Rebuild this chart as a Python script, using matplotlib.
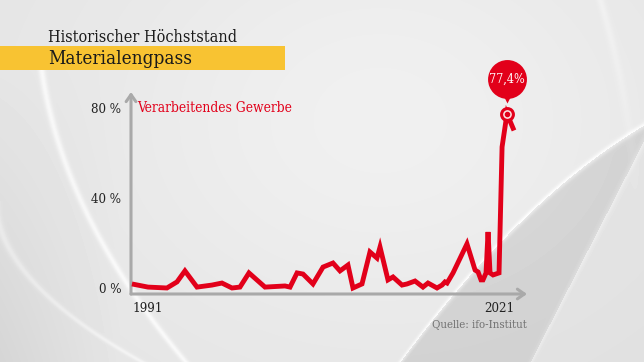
import numpy as np
import matplotlib
matplotlib.use("Agg")
import matplotlib.pyplot as plt
import matplotlib.transforms as mtransforms

# ---------------- data ----------------
years = [1989.63, 1991.00, 1992.62, 1993.48, 1994.16, 1995.19, 1996.47, 1997.32,
         1998.18, 1998.86, 1999.63, 2001.00, 2002.71, 2003.14, 2003.74, 2004.25,
         2005.10, 2005.96, 2006.81, 2007.41, 2008.09, 2008.52, 2009.29, 2009.97,
         2010.57, 2010.83, 2011.51, 2011.94, 2012.71, 2013.14, 2013.82, 2014.50,
         2014.93, 2015.70, 2016.13, 2016.38, 2016.56, 2017.07, 2018.26, 2018.95,
         2019.21, 2019.46, 2019.63, 2019.89, 2020.06, 2020.23, 2020.49, 2021.00,
         2021.26, 2021.68, 2022.28]
values = [1.8, 0.4, 0.0, 2.7, 7.6, 0.4, 1.3, 2.2,
          0.0, 0.4, 6.7, 0.4, 0.9, 0.4, 6.7, 6.2,
          1.8, 9.3, 11.1, 7.6, 10.2, 0.0, 1.8, 16.0,
          13.3, 18.2, 3.6, 4.9, 1.3, 1.8, 3.1, 0.4,
          2.2, 0.0, 1.3, 2.7, 2.2, 6.7, 19.6, 8.0,
          7.1, 3.6, 3.6, 6.7, 24.9, 6.7, 5.8, 6.7,
          62.7, 77.4, 70.0]
peak_year = 2021.68
peak_value = 77.4
peak_label = "77,4%"
ytick_vals = [0, 40, 80]
ytick_labels = ["0 %", "40 %", "80 %"]
xtick_vals = [1991, 2021]
xtick_labels = ["1991", "2021"]
title_small = "Historischer Höchststand"
title_big = "Materialengpass"
series_label = "Verarbeitendes Gewerbe"
source = "Quelle: ifo-Institut"

RED = "#e2001a"
GREY = "#a9a9a9"
SERIF = ["DejaVu Serif Condensed", "DejaVu Serif"]
STRETCH = "condensed"

W, H = 644, 362
fig = plt.figure(figsize=(W / 100, H / 100), dpi=100)

# ---------------- background ----------------
bg = fig.add_axes([0, 0, 1, 1])
bg.set_xlim(0, W)
bg.set_ylim(H, 0)
bg.axis("off")
yy, xx = np.mgrid[0:H, 0:W].astype(float)
img = np.full((H, W), 0.895)
# soft light area top-centre
img += 0.045 * np.exp(-(((xx - 380) / 280) ** 2 + ((yy - 120) / 220) ** 2))
# darker lower-left
img -= 0.06 * np.clip((120 - xx) / 120, 0, 1) * np.clip((yy - 60) / 300, 0, 1)
# bottom-right dark band between curve A and line B
curveA = 362 - 1.3553 * (xx - 400) + 0.001574 * (xx - 400) ** 2
lineB = 140 + (644 - xx) * (222 / 114)
band = (yy > curveA) & (yy < lineB)
img[band] -= 0.085
below = (yy >= lineB) & (yy > curveA)
img[below] -= 0.02
img += 0.07 * np.exp(-((yy - curveA) / 3.5) ** 2) * (xx > 380)
img += 0.03 * np.exp(-((yy - lineB) / 6) ** 2) * (yy > curveA)
# top-right faint arc
arc = 600 + 0.3 * yy - 0.0006 * yy ** 2
img += 0.03 * np.exp(-((xx - arc) / 4) ** 2) * np.clip((200 - yy) / 200, 0, 1)
# left white swooshes
sw = 40 + 0.12 * (yy - 60) + 0.0012 * (yy - 60) ** 2
img += 0.07 * np.exp(-((xx - sw) / 3.5) ** 2) * (yy > 55)
sw2 = -5 + 0.02 * (yy - 200) + 0.0055 * (yy - 200) ** 2
img += 0.05 * np.exp(-((xx - sw2) / 4) ** 2) * (yy > 200)
img = np.clip(img, 0, 1)
bg.imshow(img, cmap="gray", vmin=0, vmax=1, extent=(0, W, H, 0), aspect="auto",
          interpolation="bilinear", zorder=0)

# title block
bg.add_patch(plt.Rectangle((0, 46), 285, 24, facecolor="#f8c332", edgecolor="none", zorder=1))
bg.text(48, 37, title_small, fontsize=11.6, family=SERIF, stretch=STRETCH, color="#1a1a1a",
        va="center", ha="left", zorder=2)
bg.text(48, 58.5, title_big, fontsize=13.6, family=SERIF, stretch=STRETCH, color="#1a1a1a",
        va="center", ha="left", zorder=2)

# ---------------- chart ----------------
left_px, right_px, top_px, bot_px = 131, 527, 92, 294
ax = fig.add_axes([left_px / W, (H - bot_px) / H, (right_px - left_px) / W,
                   (bot_px - top_px) / H])
ax.patch.set_alpha(0)
ax.set_xlim(1989.55, 2023.39)
ax.set_ylim(-2.67, 87.1)
for s in ax.spines.values():
    s.set_visible(False)

ax.annotate("", xy=(1.0, 0), xytext=(0, 0), xycoords="axes fraction",
            arrowprops=dict(arrowstyle="->,head_length=0.5,head_width=0.35",
                            color=GREY, lw=2.2, shrinkA=0, shrinkB=0))
ax.annotate("", xy=(0, 1.0), xytext=(0, 0), xycoords="axes fraction",
            arrowprops=dict(arrowstyle="->,head_length=0.5,head_width=0.35",
                            color=GREY, lw=2.2, shrinkA=0, shrinkB=0))

ax.set_yticks(ytick_vals)
ax.set_yticklabels(ytick_labels, family=SERIF, stretch=STRETCH, fontsize=9.5, color="#222222")
ax.set_xticks(xtick_vals)
ax.set_xticklabels(xtick_labels, family=SERIF, stretch=STRETCH, fontsize=9.5, color="#222222")
ax.tick_params(axis="y", length=0, pad=7)
ax.tick_params(axis="x", length=0, pad=6)

ax.plot(years, values, color=RED, lw=3.5, solid_joinstyle="miter",
        solid_capstyle="butt", zorder=3)

# peak marker
ax.plot([peak_year], [peak_value], marker="o", ms=8.5, mfc="#fbe3e3", mec=RED,
        mew=2.2, zorder=4)
ax.plot([peak_year], [peak_value], marker="o", ms=3, mfc=RED, mec=RED, zorder=5)

# bubble
off_circ = mtransforms.offset_copy(ax.transData, fig=fig, x=0, y=35, units="dots")
ax.plot([peak_year], [peak_value], marker="o", ms=28, mfc=RED, mec="none",
        transform=off_circ, zorder=6, clip_on=False)
off_tri = mtransforms.offset_copy(ax.transData, fig=fig, x=0, y=15, units="dots")
ax.plot([peak_year], [peak_value], marker="v", ms=6, mfc=RED, mec="none",
        transform=off_tri, zorder=6, clip_on=False)
ax.text(peak_year, peak_value, peak_label, transform=off_circ, color="white",
        fontsize=9, family=SERIF, stretch=STRETCH, ha="center", va="center", zorder=7)

# series label
ax.text(1990.05, 80, series_label, color=RED, fontsize=9.9, family=SERIF,
        stretch=STRETCH, ha="left", va="center")

# source
bg.text(527, 325, source, fontsize=8.2, family=SERIF, stretch=STRETCH, color="#707070",
        ha="right", va="center", zorder=2)

fig.savefig("out.png", dpi=100)
